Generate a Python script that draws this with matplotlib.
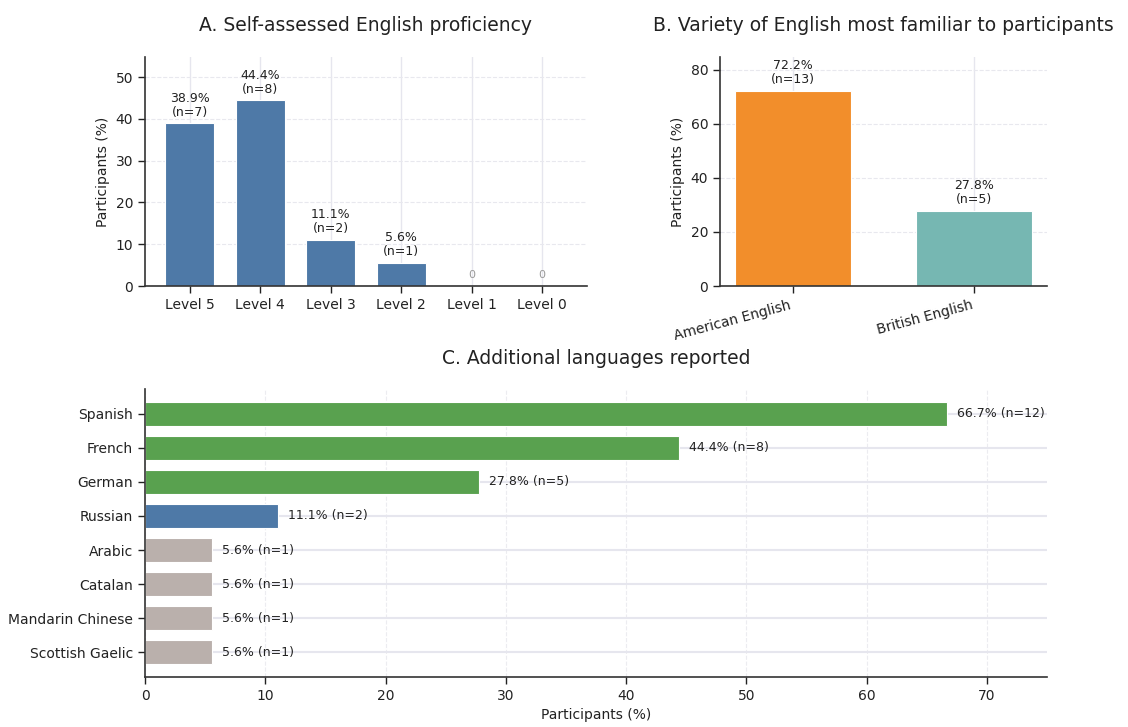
import matplotlib
matplotlib.use("Agg")
import matplotlib.pyplot as plt

# Data
prof_levels = ["Level 5", "Level 4", "Level 3", "Level 2", "Level 1", "Level 0"]
prof_pct = [38.9, 44.4, 11.1, 5.6, 0.0, 0.0]
prof_n = [7, 8, 2, 1, 0, 0]

variety = ["American English", "British English"]
variety_pct = [72.2, 27.8]
variety_n = [13, 5]

langs = ["Spanish", "French", "German", "Russian", "Arabic", "Catalan",
         "Mandarin Chinese", "Scottish Gaelic"]
lang_pct = [66.7, 44.4, 27.8, 11.1, 5.6, 5.6, 5.6, 5.6]
lang_n = [12, 8, 5, 2, 1, 1, 1, 1]
lang_group = ["green", "green", "green", "blue", "gray", "gray", "gray", "gray"]

BLUE = "#4e79a7"
ORANGE = "#f28e2b"
TEAL = "#76b7b2"
GREEN = "#59a14f"
GRAY = "#bab0ac"
group_colors = {"green": GREEN, "blue": BLUE, "gray": GRAY}

TXT = "#222222"
plt.rcParams.update({
    "font.family": ["DejaVu Sans"],
    "text.color": TXT,
    "axes.labelcolor": TXT,
    "xtick.color": TXT,
    "ytick.color": TXT,
    "axes.edgecolor": "#333333",
})

fig = plt.figure(figsize=(11.28, 7.27), dpi=100)
W, H = 1128, 727

def add_ax(l, r, t, b):
    return fig.add_axes([l / W, 1 - b / H, (r - l) / W, (b - t) / H])

def style(ax):
    for s in ["top", "right"]:
        ax.spines[s].set_visible(False)
    ax.spines["left"].set_linewidth(1.2)
    ax.spines["bottom"].set_linewidth(1.2)
    ax.tick_params(labelsize=10, length=5, width=1.0)
    ax.set_axisbelow(True)

# Panel A
axA = add_ax(145, 587, 57, 286)
style(axA)
xA = range(len(prof_levels))
axA.bar(xA, prof_pct, width=0.7, color=BLUE, edgecolor="white", linewidth=0.8)
for i, (p, n) in enumerate(zip(prof_pct, prof_n)):
    if n > 0:
        axA.text(i, p + 1.0, f"{p:.1f}%\n(n={n})", ha="center", va="bottom", fontsize=9,
                 linespacing=1.1)
    else:
        axA.text(i, 1.5, "0", ha="center", va="bottom", fontsize=8, color="#999999")
axA.set_xticks(list(xA))
axA.set_xticklabels(prof_levels)
axA.set_ylim(0, 54.8)
axA.set_yticks([0, 10, 20, 30, 40, 50])
axA.set_ylabel("Participants (%)", fontsize=10)
axA.set_title("A. Self-assessed English proficiency", fontsize=13.5, pad=19)
axA.grid(axis="x", color="#e6e6ee", linewidth=1.0)
axA.grid(axis="y", color="#e8e8ee", linewidth=0.8, linestyle="--")

# Panel B
axB = add_ax(720, 1047, 57, 286)
style(axB)
xB = range(len(variety))
axB.bar(xB, variety_pct, width=0.64, color=[ORANGE, TEAL], edgecolor="white", linewidth=0.8)
for i, (p, n) in enumerate(zip(variety_pct, variety_n)):
    axB.text(i, p + 1.8, f"{p:.1f}%\n(n={n})", ha="center", va="bottom", fontsize=9,
             linespacing=1.1)
axB.set_xticks(list(xB))
axB.set_xticklabels(variety, rotation=15, ha="right")
axB.set_ylim(0, 84.8)
axB.set_yticks([0, 20, 40, 60, 80])
axB.set_ylabel("Participants (%)", fontsize=10)
axB.set_title("B. Variety of English most familiar to participants", fontsize=13.5, pad=19)
axB.grid(axis="x", color="#e6e6ee", linewidth=1.0)
axB.grid(axis="y", color="#e8e8ee", linewidth=0.8, linestyle="--")

# Panel C
axC = add_ax(145, 1047, 389, 677)
style(axC)
yC = range(len(langs))
axC.barh(list(yC), lang_pct, height=0.7, color=[group_colors[g] for g in lang_group],
         edgecolor="white", linewidth=0.8)
for i, (p, n) in enumerate(zip(lang_pct, lang_n)):
    axC.text(p + 0.8, i, f"{p:.1f}% (n={n})", ha="left", va="center", fontsize=9)
axC.set_yticks(list(yC))
axC.set_yticklabels(langs)
axC.invert_yaxis()
axC.set_xlim(0, 75)
axC.set_xticks([0, 10, 20, 30, 40, 50, 60, 70])
axC.set_xlabel("Participants (%)", fontsize=10)
axC.set_title("C. Additional languages reported", fontsize=13.5, pad=18)
axC.grid(axis="y", color="#e6e6ee", linewidth=1.5)
axC.grid(axis="x", color="#ececf0", linewidth=0.8, linestyle="--")

fig.savefig("out.png", dpi=100, facecolor="white")
